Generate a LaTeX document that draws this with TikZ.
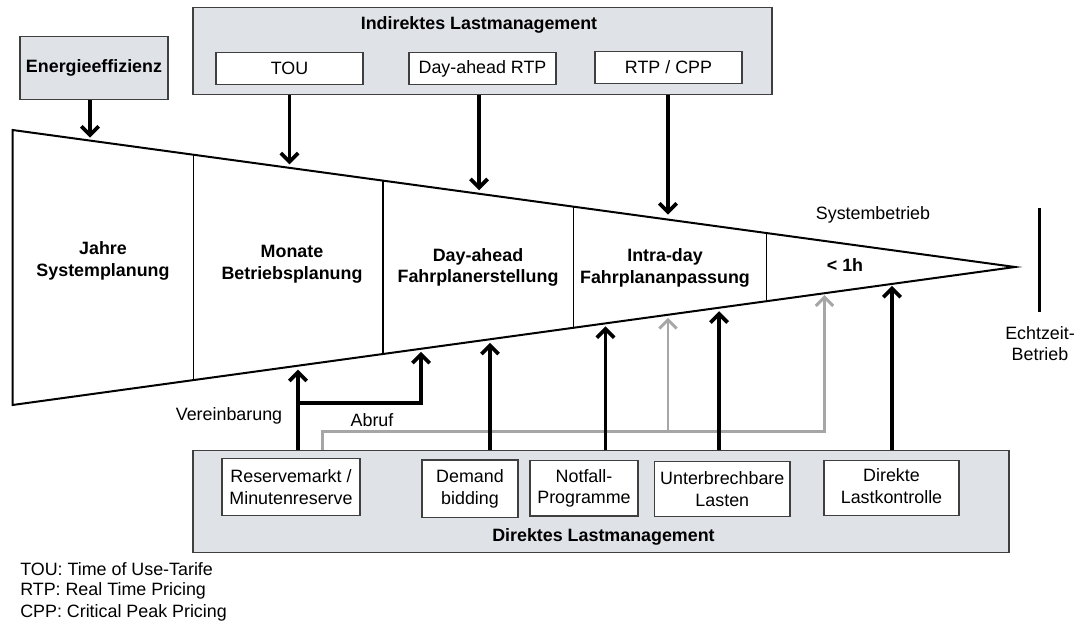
\documentclass[tikz,border=0pt]{standalone}
\usepackage{fontspec}
\setmainfont{Liberation Sans}
\usetikzlibrary{arrows.meta,calc}
\definecolor{panel}{HTML}{DFE3E8}
\definecolor{frame}{HTML}{3F3F3F}
\definecolor{garrow}{HTML}{A6A6A6}
\begin{document}
\begin{tikzpicture}[x=0.75pt,y=-0.75pt,
  every node/.style={font=\fontsize{13.4}{16.3}\selectfont, inner sep=0pt, align=center},
  bf/.style={font=\fontsize{13.4}{16.3}\selectfont\bfseries},
  panelbox/.style={draw=frame, line width=1pt, fill=panel},
  wbox/.style={draw=frame, line width=1pt, fill=white},
  arr/.style={line width=2.8pt, -{Straight Barb[length=6.5pt,width=13pt]}},
  garr/.style={arr, draw=garrow, line width=2.2pt},
  funnel/.style={line width=1.5pt, line join=miter},
  divider/.style={line width=1.1pt}]
\fill[white] (0,0) rectangle (1080,623);
\useasboundingbox (0,0) rectangle (1080,623);

% ---------- funnel ----------
\coordinate (TL) at (12.5,130);
\coordinate (T) at (1015,267);
\coordinate (BL) at (12.5,405);
\draw[funnel] (TL) -- (T) -- (BL) -- cycle;
\foreach \t in {0.18055,0.36958,0.5596,0.7521}
  \draw[divider] ($(TL)!\t!(T)$) -- ($(BL)!\t!(T)$);

\node[bf] (jahre) at (103,261) {Jahre\\Systemplanung};
\node[bf] (monate) at (292,264) {Monate\\Betriebsplanung};
\node[bf] (dayah) at (478,267.5) {Day-ahead\\Fahrplanerstellung};
\node[bf] (intra) at (665,268) {Intra-day\\Fahrplananpassung};
\node[bf] (lt1h) at (845,265) {< 1h};
\node (sysb) at (873,215) {Systembetrieb};

% real-time bar
\coordinate (barT) at (1039.3,208);
\coordinate (barB) at (1039.3,311.7);
\draw[line width=2.5pt] (barT) -- (barB);
\node (echt) at (1040,343.7) {Echtzeit-\\Betrieb};

% ---------- top boxes ----------
\node[panelbox, minimum width=111pt, minimum height=47pt] (energ) at (94,68) {};
\node[bf] at (energ) {Energieeffizienz};
\node[panelbox, minimum width=434.25pt, minimum height=65.25pt] (ind) at (482.5,50.8) {};
\node[bf] (indt) at (479,25) {Indirektes Lastmanagement};
\node[wbox, minimum width=110.25pt, minimum height=23.6pt] (tou) at (289.5,68.5) {TOU};
\node[wbox, minimum width=110.25pt, minimum height=23.6pt] (darp) at (482.5,68.5) {Day-ahead RTP};
\node[wbox, minimum width=110.25pt, minimum height=23.6pt] (rtp) at (668.5,67.5) {RTP / CPP};

% top arrow ends
\coordinate (eE) at ($(TL)!0.07731!(T)+(0,-3)$);
\coordinate (touE) at ($(TL)!0.27631!(T)+(0,-3.5)$);
\coordinate (daE) at ($(TL)!0.46534!(T)+(0,-3.5)$);
\coordinate (rtpE) at ($(TL)!0.65387!(T)+(0,-5)$);
\draw[arr] (eE |- energ.south) -- (eE);
\draw[arr] (touE |- ind.south) -- (touE);
\draw[arr] (daE |- ind.south) -- (daE);
\draw[arr] (rtpE |- ind.south) -- (rtpE);

% ---------- bottom boxes ----------
\node[panelbox, minimum width=612pt, minimum height=76.5pt] (dir) at (601,501.7) {};
\node[bf] (dirt) at (603.5,536.7) {Direktes Lastmanagement};
\node[wbox, minimum width=103.5pt, minimum height=43pt] (res) at (291,487) {Reservemarkt /\\Minutenreserve};
\node[wbox, minimum width=72pt, minimum height=43pt] (dem) at (470,488.7) {Demand\\bidding};
\node[wbox, minimum width=81pt, minimum height=41.5pt] (notf) at (584,488.3) {Notfall-\\Programme};
\node[wbox, minimum width=101.6pt, minimum height=41.3pt] (unt) at (722.3,488.8) {Unterbrechbare\\Lasten};
\node[wbox, minimum width=101.25pt, minimum height=41.3pt] (dlk) at (891.5,488.2) {};
\node at (891.5,486) {Direkte\\Lastkontrolle};

% bottom arrow ends
\coordinate (vE) at ($(BL)!0.28479!(T)+(0,4)$);
\coordinate (aE) at ($(BL)!0.40748!(T)+(0,3)$);
\coordinate (demE) at ($(BL)!0.47631!(T)+(0,3.5)$);
\coordinate (notE) at ($(BL)!0.59152!(T)+(0,3)$);
\coordinate (g1E) at ($(BL)!0.65387!(T)+(0,3)$);
\coordinate (untE) at ($(BL)!0.70474!(T)+(0,3.5)$);
\coordinate (g2E) at ($(BL)!0.80998!(T)+(0,2)$);
\coordinate (dlkE) at ($(BL)!0.87731!(T)+(0,2)$);
\coordinate (aY) at (0,403.3);
\coordinate (gY) at (0,431.7);
\coordinate (gX) at (322.5,0);

% grey connectors (Abruf)
\draw[garr] (gX |- dir.north) |- (gY -| g2E) -- (g2E);
\draw[garr] (g1E |- gY) -- (g1E);

% black connectors
\draw[arr] (vE |- dir.north) -- (vE);
\draw[arr] (vE |- aY) -| (aE);
\draw[arr] (demE |- dir.north) -- (demE);
\draw[arr] (notE |- dir.north) -- (notE);
\draw[arr] (untE |- dir.north) -- (untE);
\draw[arr] (dlkE |- dir.north) -- (dlkE);

\node (vereinb) at (229,416) {Vereinbarung};
\node (abruf) at (372,420) {Abruf};

% ---------- legend ----------
\node[anchor=west] (lg1) at (20,569) {TOU: Time of Use-Tarife};
\node[anchor=west] (lg2) at (20,591) {RTP: Real Time Pricing};
\node[anchor=west] (lg3) at (20,613) {CPP: Critical Peak Pricing};
\end{tikzpicture}
\end{document}
